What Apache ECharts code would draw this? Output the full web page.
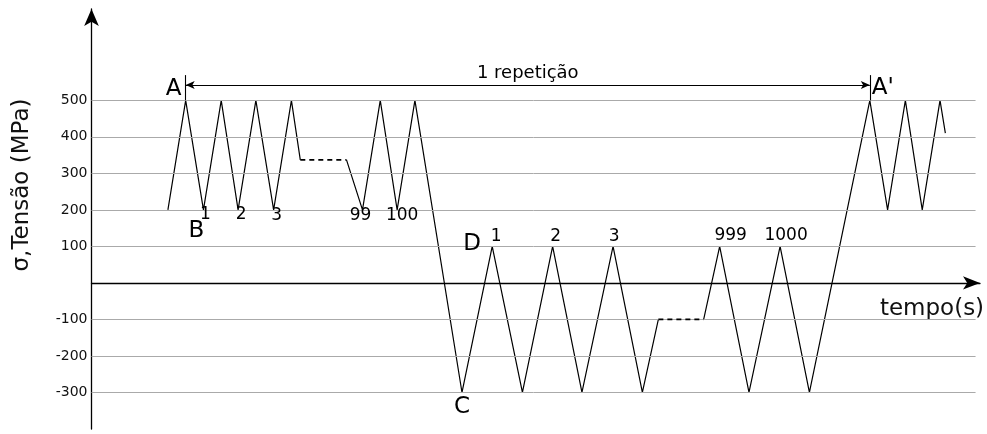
<!DOCTYPE html>
<html>
<head>
<meta charset="utf-8">
<script src="https://cdn.jsdelivr.net/npm/echarts@6/dist/echarts.min.js"></script>
<style>html,body{margin:0;padding:0;background:#fff;}#c{width:987px;height:434px;}</style>
</head>
<body>
<div id="c"></div>
<script>
// ---- data (time in arbitrary units, stress in MPa) ----
const gridLevels = [500, 400, 300, 200, 100, -100, -200, -300];
const solidA = [[8.6,200],[10.6,500],[12.6,200],[14.6,500],[16.5,200],[18.5,500],[20.5,200],[22.5,500],[23.5,337]];
const dashA  = [[23.5,337],[28.7,337]];
const solidB = [[28.7,337],[30.5,200],[32.5,500],[34.4,200],[36.4,500],[41.7,-300],[45.1,100],[48.5,-300],[51.9,100],[55.2,-300],[58.7,100],[62.0,-300],[63.8,-100]];
const dashB  = [[63.8,-100],[68.9,-100]];
const solidC = [[68.9,-100],[70.7,100],[74.0,-300],[77.5,100],[80.8,-300],[87.6,500],[89.6,200],[91.6,500],[93.5,200],[95.5,500],[96.1,410]];
const pointNames  = ['A', 'B', 'C', 'D', "A'"];
const pointTimes  = [10.6, 12.6, 41.7, 45.1, 87.6];
const pointStress = [500, 200, -300, 100, 500];
const cycleNames  = ['1','2','3','99','100','1','2','3','999','1000'];
const cycleTimes  = [12.6,16.5,20.5,30.5,34.4,45.1,51.9,58.7,70.7,77.5];
const cycleStress = [200,200,200,200,200,100,100,100,100,100];
const repText = '1 repetição';
const repStart = 10.6, repEnd = 87.6, repLevel = 542, repTop = 569;
const yName = 'σ,Tensão (MPa)';
const xName = 'tempo(s)';

// ---- styles ----
const FONT = '"DejaVu Sans", Verdana, sans-serif';
const INK = '#000';
const pointOffsets = [[-12,-11],[-7,21],[0,15],[-20,-2],[13,-12]];
const cycleOffsets = [[2,5],[3,5],[3,6],[-2,6],[5,6],[4,-10],[3,-10],[1,-10],[11,-11],[6,-11]];

const chart = echarts.init(document.getElementById('c'), null, {renderer:'canvas'});
const lineSeries = (data, dashed) => ({
  type:'line', data, showSymbol:false, symbol:'none', z:dashed ? 6 : 3, silent:true,
  lineStyle:{color:INK, width:dashed ? 1.8 : 1.2, type: dashed ? [5,4] : 'solid', opacity:1}
});
const mkLabel = (n, size, off) => ({show:true, formatter:n, fontSize:size, offset:off, color:INK, opacity:1, fontFamily:FONT});
const labelData = [];
pointNames.forEach((n,i)=>labelData.push({value:[pointTimes[i],pointStress[i]], label:mkLabel(n, 23, pointOffsets[i])}));
cycleNames.forEach((n,i)=>labelData.push({value:[cycleTimes[i],cycleStress[i]], label:mkLabel(n, 17, cycleOffsets[i])}));

chart.setOption({
  animation:false,
  backgroundColor:'#fff',
  grid:{left:91.5, right:7, top:9, bottom:5},
  xAxis:{type:'value', min:0, max:100,
    axisLine:{onZero:true, symbol:['none','arrow'], symbolSize:[10,17], lineStyle:{color:INK, width:1.3}},
    axisTick:{show:false}, axisLabel:{show:false}, splitLine:{show:false}},
  yAxis:{type:'value', min:-400, max:750, interval:100,
    axisLine:{show:true, symbol:['none','arrow'], symbolSize:[11,17], lineStyle:{color:INK, width:1.3}},
    axisTick:{show:false}, splitLine:{show:false},
    axisLabel:{margin:4, fontFamily:FONT, fontSize:14, color:'#111',
      formatter:v => gridLevels.includes(v) ? String(v) : ''}},
  graphic:[
    {type:'text', x:22, y:185, rotation:Math.PI/2, style:{text:yName, font:'23px '+FONT, fill:'#111', textAlign:'center', textVerticalAlign:'middle'}},
    {type:'text', x:932, y:309, style:{text:xName, font:'23px '+FONT, fill:'#111', textAlign:'center', textVerticalAlign:'middle'}}
  ],
  series:[
    {type:'line', data:[], z:1, silent:true,
      markLine:{silent:true, symbol:'none', animation:false, label:{show:false},
        lineStyle:{color:'#aaa', width:1, type:'solid'},
        data: gridLevels.map(v => [{coord:[0,v]},{coord:[99.5,v]}])}},
    lineSeries(solidA,false), lineSeries(dashA,true), lineSeries(solidB,false),
    lineSeries(dashB,true), lineSeries(solidC,false),
    {type:'line', data:[], z:4, silent:true,
      markLine:{silent:true, animation:false, symbol:'none', label:{show:false},
        lineStyle:{color:INK, width:1.1, type:'solid'},
        data:[
          [{coord:[repStart,500]},{coord:[repStart,repTop]}],
          [{coord:[repEnd,500]},{coord:[repEnd,repTop]}],
          [{coord:[repStart,repLevel], symbol:'arrow', symbolSize:[6,9]},
           {coord:[repEnd,repLevel], symbol:'arrow', symbolSize:[6,9],
            label:{show:true, position:'middle', formatter:repText, fontFamily:FONT, fontSize:18, color:INK, distance:3}}]
        ]}},
    {type:'scatter', data:labelData, symbolSize:0, z:5, silent:true,
      itemStyle:{opacity:1, color:INK},
      label:{show:true, position:'inside', fontFamily:FONT, color:INK, align:'center', verticalAlign:'middle'}}
  ]
});
</script>
</body>
</html>
